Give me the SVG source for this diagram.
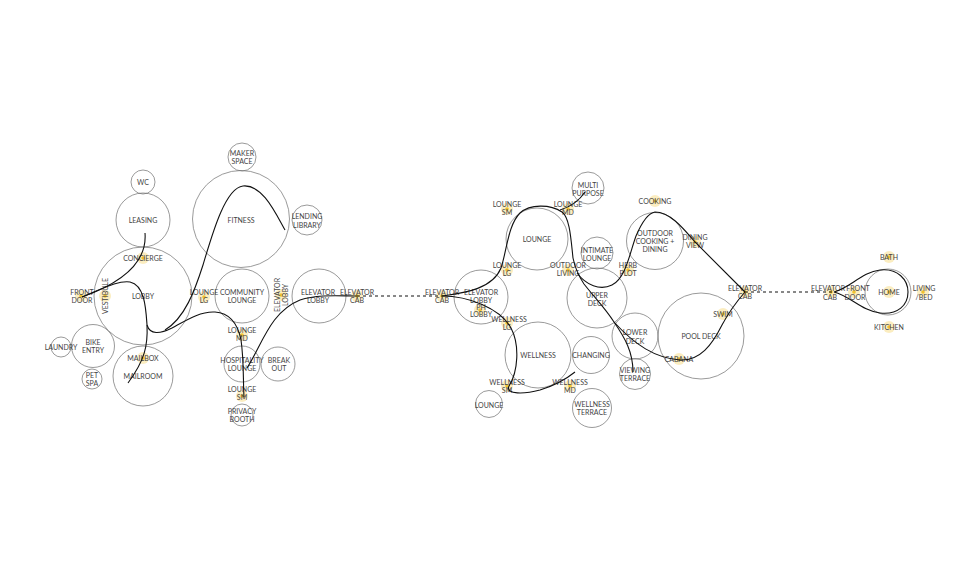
<svg xmlns="http://www.w3.org/2000/svg" width="980" height="569" viewBox="0 0 980 569">
<style>
.c{fill:none;stroke:#6e6e6e;stroke-width:0.7}
.t{font-family:Lato,"Liberation Sans",sans-serif;font-size:7px;fill:#444;text-anchor:middle;dominant-baseline:central}
.p{fill:none;stroke:#111;stroke-width:1.1}
.d{fill:none;stroke:#111;stroke-width:1;stroke-dasharray:3 3}
</style>
<defs>
<g id="dot"><circle r="6" fill="#f7df8c" opacity="0.55"/><circle r="1.8" fill="#f0c22e"/></g>
</defs>
<rect width="980" height="569" fill="#fff"/>

<!-- LEFT CLUSTER -->
<g id="wc"><circle class="c" cx="143" cy="182" r="12"/><text class="t" x="143" y="182">WC</text></g>
<g id="leasing"><circle class="c" cx="143" cy="220" r="27"/><text class="t" x="143" y="220">LEASING</text></g>
<g id="lobby"><circle class="c" cx="143" cy="296" r="49"/><text class="t" x="143" y="296">LOBBY</text></g>
<g id="concierge"><use href="#dot" x="143" y="258"/><text class="t" x="143" y="258">CONCIERGE</text></g>
<g id="vestibule"><use href="#dot" x="105" y="296"/><text class="t" transform="translate(105 296) rotate(-90)">VESTIBULE</text></g>
<g id="front-door-1"><use href="#dot" x="81" y="296"/><text class="t" x="82" y="292">FRONT</text><text class="t" x="82" y="300">DOOR</text></g>
<g id="mailroom"><circle class="c" cx="143" cy="376" r="30"/><text class="t" x="143" y="376">MAILROOM</text></g>
<g id="mailbox"><use href="#dot" x="143" y="358"/><text class="t" x="143" y="358">MAILBOX</text></g>
<g id="bike-entry"><circle class="c" cx="93" cy="346" r="21.5"/><text class="t" x="93" y="342">BIKE</text><text class="t" x="93" y="350">ENTRY</text></g>
<g id="laundry"><circle class="c" cx="61" cy="347" r="10"/><text class="t" x="61" y="347">LAUNDRY</text></g>
<g id="pet-spa"><circle class="c" cx="92" cy="379" r="10"/><text class="t" x="92" y="375">PET</text><text class="t" x="92" y="383">SPA</text></g>

<g id="maker-space"><circle class="c" cx="242" cy="157" r="14"/><text class="t" x="242" y="153">MAKER</text><text class="t" x="242" y="161">SPACE</text></g>
<g id="fitness"><circle class="c" cx="241" cy="219" r="48.5"/><text class="t" x="241" y="220">FITNESS</text></g>
<g id="lending-library"><circle class="c" cx="307" cy="220" r="15"/><text class="t" x="307" y="216">LENDING</text><text class="t" x="307" y="225">LIBRARY</text></g>
<g id="community-lounge"><circle class="c" cx="242" cy="296" r="27"/><text class="t" x="242" y="292">COMMUNITY</text><text class="t" x="242" y="300">LOUNGE</text></g>
<g id="lounge-lg-1"><use href="#dot" x="204" y="297"/><text class="t" x="204" y="292">LOUNGE</text><text class="t" x="204" y="300">LG</text></g>
<g id="elevator-lobby-label-1"><use href="#dot" x="281" y="295"/><text class="t" transform="translate(277 295) rotate(-90)">ELEVATOR</text><text class="t" transform="translate(285 295) rotate(-90)">LOBBY</text></g>
<g id="elevator-lobby-1"><circle class="c" cx="319" cy="296" r="27"/><text class="t" x="318" y="292">ELEVATOR</text><text class="t" x="318" y="300">LOBBY</text></g>
<g id="elevator-cab-1"><use href="#dot" x="357" y="296"/><text class="t" x="357" y="292">ELEVATOR</text><text class="t" x="357" y="300">CAB</text></g>
<g id="lounge-md-1"><use href="#dot" x="242" y="335"/><text class="t" x="242" y="330">LOUNGE</text><text class="t" x="242" y="338">MD</text></g>
<g id="hospitality-lounge"><circle class="c" cx="242" cy="364" r="18"/><text class="t" x="242" y="360">HOSPITALITY</text><text class="t" x="242" y="368">LOUNGE</text></g>
<g id="break-out"><circle class="c" cx="278" cy="364" r="17"/><text class="t" x="279" y="360">BREAK</text><text class="t" x="279" y="368">OUT</text></g>
<g id="lounge-sm-1"><use href="#dot" x="242" y="396"/><text class="t" x="242" y="389">LOUNGE</text><text class="t" x="242" y="397">SM</text></g>
<g id="privacy-booth"><circle class="c" cx="242" cy="415" r="11"/><text class="t" x="242" y="411">PRIVACY</text><text class="t" x="242" y="419">BOOTH</text></g>

<!-- MIDDLE CLUSTER -->
<g id="elevator-cab-2"><use href="#dot" x="442" y="296"/><text class="t" x="442" y="292">ELEVATOR</text><text class="t" x="442" y="300">CAB</text></g>
<g id="elevator-lobby-2"><circle class="c" cx="481" cy="297" r="27"/><text class="t" x="481" y="292">ELEVATOR</text><text class="t" x="481" y="300">LOBBY</text></g>
<g id="ph-lobby"><use href="#dot" x="480" y="310"/><text class="t" x="481" y="307">PH</text><text class="t" x="481" y="314">LOBBY</text></g>
<g id="lounge"><circle class="c" cx="537" cy="239" r="31"/><text class="t" x="537" y="239">LOUNGE</text></g>
<g id="lounge-sm-2"><use href="#dot" x="507" y="209"/><text class="t" x="507" y="204">LOUNGE</text><text class="t" x="507" y="212">SM</text></g>
<g id="lounge-md-2"><use href="#dot" x="568" y="209"/><text class="t" x="568" y="204">LOUNGE</text><text class="t" x="568" y="212">MD</text></g>
<g id="lounge-lg-2"><use href="#dot" x="507" y="270"/><text class="t" x="507" y="265">LOUNGE</text><text class="t" x="507" y="273">LG</text></g>
<g id="multi-purpose"><circle class="c" cx="588" cy="188" r="16"/><text class="t" x="588" y="185">MULTI</text><text class="t" x="588" y="193">PURPOSE</text></g>
<g id="intimate-lounge"><circle class="c" cx="597" cy="253" r="16"/><text class="t" x="597" y="250">INTIMATE</text><text class="t" x="597" y="258">LOUNGE</text></g>
<g id="outdoor-living"><use href="#dot" x="568" y="270"/><text class="t" x="568" y="265">OUTDOOR</text><text class="t" x="568" y="273">LIVING</text></g>
<g id="upper-deck"><circle class="c" cx="597" cy="298" r="30"/><text class="t" x="597" y="295">UPPER</text><text class="t" x="597" y="303">DECK</text></g>
<g id="herb-plot"><use href="#dot" x="628" y="270"/><text class="t" x="628" y="265">HERB</text><text class="t" x="628" y="273">PLOT</text></g>
<g id="outdoor-cooking"><circle class="c" cx="655" cy="241" r="28.5"/><text class="t" x="655" y="233">OUTDOOR</text><text class="t" x="655" y="241">COOKING +</text><text class="t" x="655" y="249">DINING</text></g>
<g id="cooking"><use href="#dot" x="655" y="201"/><text class="t" x="655" y="201">COOKING</text></g>
<g id="dining-view"><use href="#dot" x="695" y="242"/><text class="t" x="695" y="237">DINING</text><text class="t" x="695" y="245">VIEW</text></g>
<g id="elevator-cab-3"><use href="#dot" x="745" y="292"/><text class="t" x="745" y="288">ELEVATOR</text><text class="t" x="745" y="296">CAB</text></g>
<g id="pool-deck"><circle class="c" cx="701" cy="336" r="43"/><text class="t" x="701" y="336">POOL DECK</text></g>
<g id="swim"><use href="#dot" x="723" y="314"/><text class="t" x="723" y="314">SWIM</text></g>
<g id="cabana"><use href="#dot" x="679" y="359"/><text class="t" x="679" y="359">CABANA</text></g>
<g id="lower-deck"><circle class="c" cx="635" cy="336" r="23"/><text class="t" x="635" y="332">LOWER</text><text class="t" x="635" y="341">DECK</text></g>
<g id="viewing-terrace"><circle class="c" cx="635" cy="374" r="15.5"/><text class="t" x="635" y="370">VIEWING</text><text class="t" x="635" y="378">TERRACE</text></g>
<g id="wellness"><circle class="c" cx="538" cy="355" r="33"/><text class="t" x="538" y="355">WELLNESS</text></g>
<g id="wellness-lg"><use href="#dot" x="507" y="323"/><text class="t" x="509" y="319">WELLNESS</text><text class="t" x="507" y="327">LG</text></g>
<g id="changing"><circle class="c" cx="591" cy="355" r="18.5"/><text class="t" x="591" y="355">CHANGING</text></g>
<g id="wellness-sm"><use href="#dot" x="507" y="386"/><text class="t" x="507" y="382">WELLNESS</text><text class="t" x="507" y="390">SM</text></g>
<g id="wellness-md"><use href="#dot" x="570" y="386"/><text class="t" x="570" y="382">WELLNESS</text><text class="t" x="570" y="390">MD</text></g>
<g id="lounge-small"><circle class="c" cx="489" cy="404" r="13.5"/><text class="t" x="489" y="405">LOUNGE</text></g>
<g id="wellness-terrace"><circle class="c" cx="592" cy="408" r="19.5"/><text class="t" x="592" y="404">WELLNESS</text><text class="t" x="592" y="412">TERRACE</text></g>

<!-- RIGHT CLUSTER -->
<g id="elevator-cab-4"><use href="#dot" x="831" y="292"/><text class="t" x="828" y="288">ELEVATOR</text><text class="t" x="830" y="297">CAB</text></g>
<g id="front-door-2"><use href="#dot" x="854" y="292"/><text class="t" x="858" y="288">FRONT</text><text class="t" x="855" y="297">DOOR</text></g>
<g id="home"><circle class="c" cx="888" cy="292" r="23"/><use href="#dot" x="889" y="292"/><text class="t" x="889" y="292">HOME</text></g>
<g id="bath"><use href="#dot" x="889" y="257"/><text class="t" x="889" y="257">BATH</text></g>
<g id="kitchen"><use href="#dot" x="889" y="327"/><text class="t" x="889" y="327">KITCHEN</text></g>
<g id="living-bed"><use href="#dot" x="923" y="292"/><text class="t" x="924" y="288">LIVING</text><text class="t" x="924" y="297">/BED</text></g>

<!-- CONNECTORS -->
<g id="connectors">
<path class="p" d="M145,233 C147,258 130,280 82,297"/>
<path class="p" d="M82,297 C100,290 118,280 130,282 C145,285 146,310 147,325 C148,345 145,360 128,383"/>
<path class="p" d="M147,325 C150,335 160,334 172,328 C185,321 200,311 215,312 C230,313 238,325 241,340 C244,360 243,380 244,397"/>
<path class="p" d="M165,330 C185,318 195,290 203,265 C212,235 225,188 243,186 C262,184 275,212 285,230"/>
<path class="p" d="M247,368 C262,345 270,312 300,300 C318,294 340,296 357,296"/>
<path class="d" d="M357,296 L442,296"/>
<path class="p" d="M442,296 C462,293 492,290 501,268 C507,250 508,225 520,213 C530,204 550,204 562,212 C570,218 571,240 573,258 C575,268 578,275 584,284 C595,298 605,308 614,322 C625,338 633,352 633,372"/>
<path class="p" d="M560,210 C570,207 579,201 585,192"/>
<path class="p" d="M614,322 C635,345 655,358 680,360 C700,361 712,345 722,325 C730,310 738,300 745,292"/>
<path class="p" d="M577,273 C586,285 600,291 612,285 C626,278 630,252 636,236 C642,222 648,213 655,212 C670,212 683,228 695,242 L745,292"/>
<path class="p" d="M442,296 C468,296 500,308 511,328 C520,345 518,372 509,386 C505,395 525,394 540,390 C553,386 565,380 575,372"/>
<path class="d" d="M745,292 L832,292"/>
<path class="p" d="M834,292 C850,288 862,272 880,270 C898,268 908,280 908,292 C908,305 898,315 880,313 C862,311 850,296 834,292 Z"/>
</g>
</svg>
